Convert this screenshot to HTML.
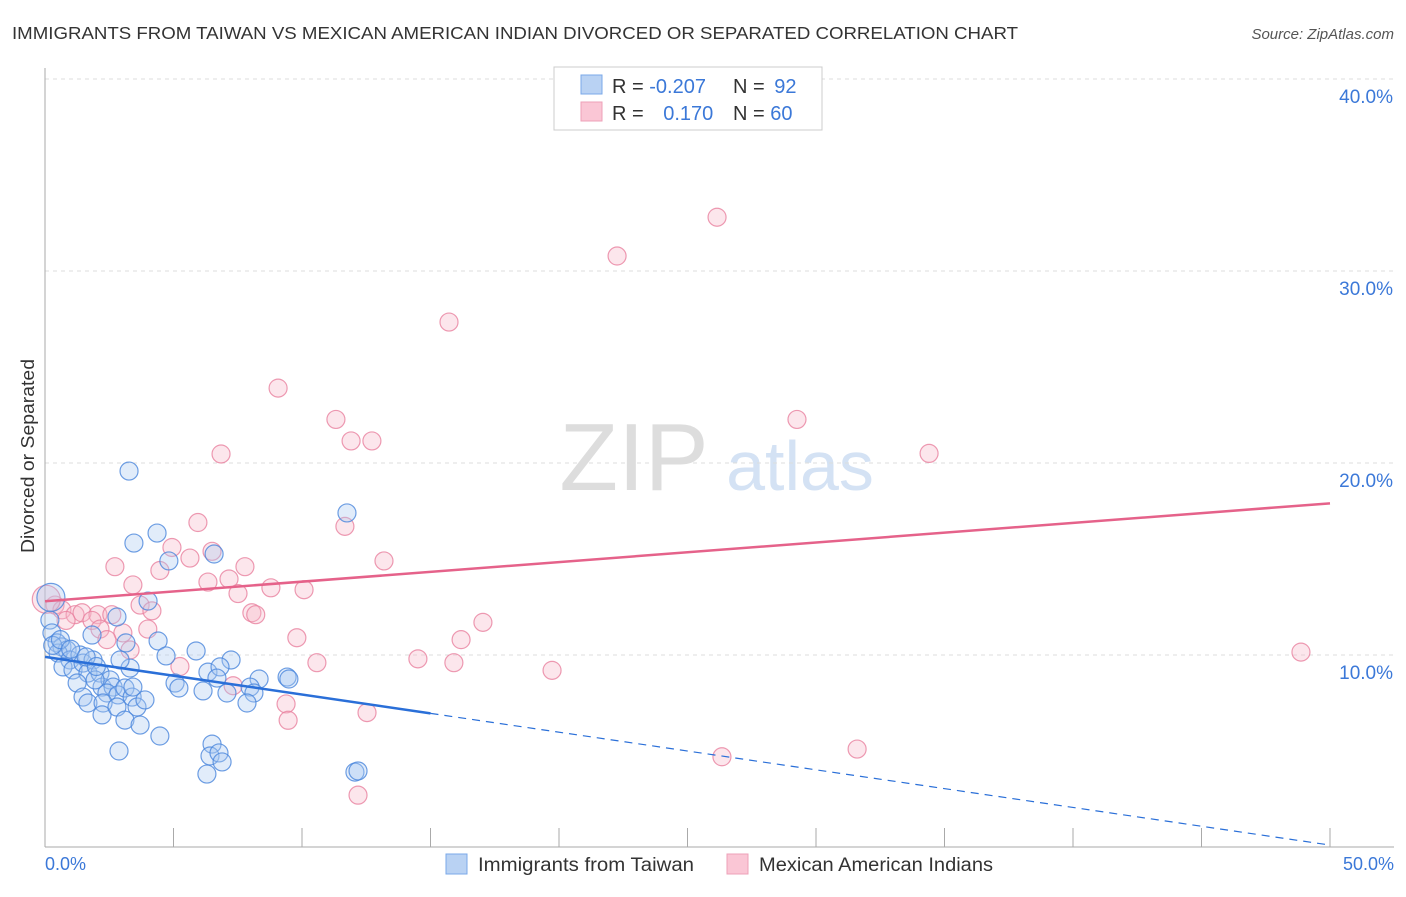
<!DOCTYPE html>
<html><head><meta charset="utf-8"><style>
body{margin:0;background:#fff;font-family:"Liberation Sans",sans-serif;}
svg text{font-family:"Liberation Sans",sans-serif;}
</style></head><body>
<svg id="chart" width="1406" height="892" viewBox="0 0 1406 892" xmlns="http://www.w3.org/2000/svg">
<text x="12" y="39" font-size="17.5" fill="#333" textLength="1006" lengthAdjust="spacingAndGlyphs">IMMIGRANTS FROM TAIWAN VS MEXICAN AMERICAN INDIAN DIVORCED OR SEPARATED CORRELATION CHART</text>
<text x="1394" y="39" font-size="15" fill="#555" font-style="italic" text-anchor="end">Source: ZipAtlas.com</text>
<text x="634" y="490" font-size="96" fill="#ddd" font-family="Liberation Serif,serif" text-anchor="middle">ZIP</text>
<text x="800" y="490" font-size="70" fill="#d4e2f4" text-anchor="middle">atlas</text>
<g id="grid"></g>
<line x1="45" y1="68" x2="45" y2="847" stroke="#aaa"/>
<line x1="45" y1="847" x2="1394" y2="847" stroke="#aaa"/>
<text transform="translate(34,456) rotate(-90)" font-size="18" fill="#333" text-anchor="middle" textLength="194" lengthAdjust="spacingAndGlyphs">Divorced or Separated</text>
<text x="45" y="870" font-size="18" fill="#3b78d8">0.0%</text>
<text x="1394" y="870" font-size="18" fill="#3b78d8" text-anchor="end">50.0%</text>
<g id="marks"></g>
<g>
<rect x="554" y="67" width="268" height="63" fill="#fff" stroke="#ccc"/>
<rect x="581" y="75" width="21" height="19" fill="#b9d2f3" stroke="#7aa8e8"/>
<rect x="581" y="102" width="21" height="19" fill="#fac6d5" stroke="#eea0b8"/>
<text x="612" y="93" font-size="20" fill="#333">R = <tspan fill="#3b78d8">-0.207</tspan></text>
<text x="733" y="93" font-size="20" fill="#333">N = <tspan fill="#3b78d8" dx="4">92</tspan></text>
<text x="612" y="120" font-size="20" fill="#333">R = <tspan fill="#3b78d8" dx="14">0.170</tspan></text>
<text x="733" y="120" font-size="20" fill="#333">N = <tspan fill="#3b78d8">60</tspan></text>
</g>
<g>
<rect x="446" y="854" width="21" height="20" fill="#b9d2f3" stroke="#7aa8e8"/>
<text x="478" y="871" font-size="19" fill="#333" textLength="216" lengthAdjust="spacingAndGlyphs">Immigrants from Taiwan</text>
<rect x="727" y="854" width="21" height="20" fill="#fac6d5" stroke="#eea0b8"/>
<text x="759" y="871" font-size="19" fill="#333" textLength="234" lengthAdjust="spacingAndGlyphs">Mexican American Indians</text>
</g>
</svg>
<script>
const yTicks=[10,20,30,40];
const yTickLabels=["10.0%","20.0%","30.0%","40.0%"];
const xTicks=[5,10,15,20,25,30,35,40,45,50];
const blueX=[3.27,11.75,4.36,3.46,4.82,6.58,4.01,2.8,1.83,3.15,4.4,5.88,7.24,4.71,6.34,6.81,8.33,9.42,9.49,5.06,5.21,6.15,6.69,7.08,7.98,8.13,7.86,4.47,2.88,6.5,6.42,6.77,6.89,6.3,12.06,12.18,0.19,0.27,0.47,0.66,0.86,0.51,0.97,1.36,0.7,1.09,1.48,1.87,1.67,1.25,1.48,1.67,2.14,2.22,2.53,2.65,2.41,2.84,2.26,2.22,2.8,3.11,3.31,2.92,3.39,3.58,3.89,3.11,3.7,3.42,1.95,0.3,0.6,1.0,1.6,2.0];
const blueY=[19.58,17.4,16.35,15.83,14.9,15.26,12.81,11.98,11.04,10.63,10.73,10.21,9.74,9.95,9.11,9.38,8.75,8.85,8.75,8.54,8.28,8.13,8.8,8.02,8.33,8.02,7.5,5.78,5.0,5.36,4.74,4.9,4.43,3.8,3.9,3.96,11.82,11.15,10.63,10.42,10.26,10.1,9.74,10.0,9.38,9.22,9.58,9.74,9.06,8.54,7.81,7.5,9.06,8.33,8.7,8.33,8.02,7.92,7.5,6.88,7.29,8.28,9.32,9.74,7.81,7.29,7.66,6.61,6.35,8.33,8.7,10.5,10.8,10.3,9.9,9.4];
const pinkX=[26.15,22.26,15.72,9.07,11.32,29.26,11.91,12.72,6.85,34.4,11.67,5.95,4.94,6.5,5.64,2.72,4.47,13.19,7.78,7.16,3.42,6.34,8.79,7.51,10.08,3.7,4.16,8.05,8.2,0.39,0.66,1.17,1.44,2.06,2.6,1.83,0.82,3.03,4.0,2.14,17.04,2.41,9.8,16.19,5.25,10.58,14.51,15.91,19.73,48.87,7.32,9.38,9.46,12.53,26.34,31.6,12.18,3.31];
const pinkY=[32.8,30.78,27.34,23.9,22.27,22.27,21.15,21.15,20.47,20.5,16.7,16.9,15.6,15.4,15.05,14.6,14.4,14.9,14.6,13.96,13.65,13.8,13.5,13.2,13.4,12.6,12.3,12.2,12.1,12.6,12.35,12.1,12.2,12.1,12.1,11.8,11.8,11.15,11.35,11.35,11.7,10.8,10.9,10.8,9.4,9.6,9.8,9.6,9.2,10.15,8.4,7.45,6.6,7.0,4.7,5.1,2.7,10.26];
const blueBig=[0.23,13.0];
const pinkBig=[0.05,12.9];
const blueTrend=[9.9,0.1];
const blueSolidEnd=15;
const pinkTrend=[12.8,17.9];

const xs=v=>45+v*25.7, ys=v=>847-v*19.2;
const NS="http://www.w3.org/2000/svg";
const grid=document.getElementById('grid'), marks=document.getElementById('marks');
function mk(tag,attrs,parent){const e=document.createElementNS(NS,tag);for(const k in attrs)e.setAttribute(k,attrs[k]);parent.appendChild(e);return e;}
yTicks.forEach((t,i)=>{
  const l=mk('line',{x1:45,x2:1394,y1:ys(t),y2:ys(t),stroke:'#ddd','stroke-dasharray':'4,4'},grid);
  
  
  const tx=mk('text',{x:1393,y:ys(t)+24,'font-size':19,fill:'#3b78d8','text-anchor':'end'},grid);
  tx.textContent=yTickLabels[i];
  
  
});
xTicks.forEach(t=>{
  const l=mk('line',{x1:xs(t),x2:xs(t),y1:828,y2:847,stroke:'#aaa'},grid);
  
  
});
function pt(x,y,r,fill,stroke,name){
  const c=mk('circle',{cx:xs(x),cy:ys(y),r:r,fill:fill,'fill-opacity':0.35,stroke:stroke,'stroke-opacity':0.8,'stroke-width':1.2},marks);
  
  
}
pinkX.forEach((x,i)=>pt(x,pinkY[i],9,'#f7b6c9','#e8819f','point-mexican'));
pt(pinkBig[0],pinkBig[1],14,'#f7b6c9','#e8819f','point-mexican-large');
blueX.forEach((x,i)=>pt(x,blueY[i],9,'#a9c8f0','#4a86dc','point-taiwan'));
pt(blueBig[0],blueBig[1],14,'#a9c8f0','#4a86dc','point-taiwan-large');
const by=x=>blueTrend[0]+(blueTrend[1]-blueTrend[0])*x/50;
let l=mk('line',{x1:xs(0),y1:ys(by(0)),x2:xs(blueSolidEnd),y2:ys(by(blueSolidEnd)),stroke:'#2a6fd8','stroke-width':2.5},marks);


l=mk('line',{x1:xs(blueSolidEnd),y1:ys(by(blueSolidEnd)),x2:xs(50),y2:ys(by(50)),stroke:'#2a6fd8','stroke-width':1.2,'stroke-dasharray':'8,6'},marks);


l=mk('line',{x1:xs(0),y1:ys(pinkTrend[0]),x2:xs(50),y2:ys(pinkTrend[1]),stroke:'#e5628a','stroke-width':2.5},marks);


</script>
</body></html>
